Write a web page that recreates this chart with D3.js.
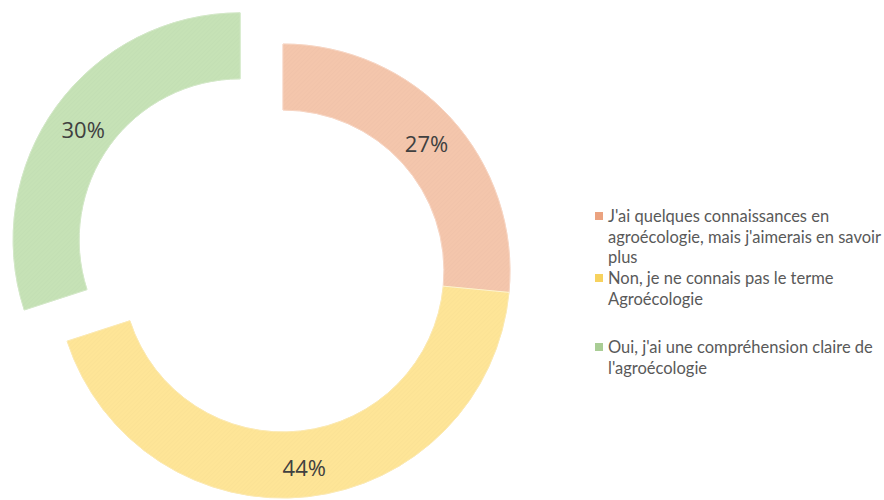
<!DOCTYPE html>
<html>
<head>
<meta charset="utf-8">
<script src="https://cdn.jsdelivr.net/npm/d3@7"></script>
<style>
  html, body { margin: 0; padding: 0; background: #fff; }
  svg { display: block; }
</style>
</head>
<body>
<svg id="chart" width="884" height="500"></svg>
<script>
// ---- data ----
const categories = [
  "J'ai quelques connaissances en agroécologie, mais j'aimerais en savoir plus",
  "Non, je ne connais pas le terme Agroécologie",
  "Oui, j'ai une compréhension claire de l'agroécologie"
];
const values = [26.5, 43.5, 30];
const exploded = [0, 0, 1];

// ---- styles ----
const fillColors = ["#F4C6AC", "#FEE597", "#C6E2B6"];
const edgeColors = ["#F2BA9C", "#FADB7E", "#B6D9A3"];
const legendColors = ["#EBA380", "#F7D25E", "#A9CD95"];

const svg = d3.select("#chart");
const cx = 283, cy = 271, rOuter = 227, rInner = 161, explodeDist = 53;

// hatch patterns
const defs = svg.append("defs");
fillColors.forEach((c, i) => {
  const p = defs.append("pattern")
    .attr("id", "hatch" + i)
    .attr("patternUnits", "userSpaceOnUse")
    .attr("width", 3).attr("height", 3)
    .attr("patternTransform", "rotate(45)");
  p.append("rect").attr("width", 3).attr("height", 3).attr("fill", c);
  p.append("line").attr("x1", 0).attr("y1", 0).attr("x2", 0).attr("y2", 3)
    .attr("stroke", d3.color(c).darker(0.35)).attr("stroke-width", 0.6).attr("stroke-opacity", 0.35);
});

const total = d3.sum(values);
const pie = d3.pie().sort(null).value(d => d).startAngle(0).endAngle(2 * Math.PI);
const arcs = pie(values);
const arc = d3.arc().innerRadius(rInner).outerRadius(rOuter);

const g = svg.append("g").attr("transform", `translate(${cx},${cy})`);

function offset(d, i) {
  if (!exploded[i]) return [0, 0];
  const a = (d.startAngle + d.endAngle) / 2;
  return [Math.sin(a) * explodeDist, -Math.cos(a) * explodeDist];
}

g.selectAll("path.slice").data(arcs).join("path")
  .attr("class", "slice")
  .attr("d", arc)
  .attr("transform", (d, i) => { const o = offset(d, i); return `translate(${o[0]},${o[1]})`; })
  .attr("fill", (d, i) => `url(#hatch${i})`)
  .attr("stroke", (d, i) => edgeColors[i])
  .attr("stroke-width", 1);

g.selectAll("path.sep").data(arcs).join("path")
  .attr("class", "sep")
  .attr("d", arc)
  .attr("transform", (d, i) => { const o = offset(d, i); return `translate(${o[0]},${o[1]})`; })
  .attr("fill", "none")
  .attr("stroke", "#fff")
  .attr("stroke-width", 0.8)
  .attr("stroke-opacity", 0.5);

g.selectAll("text.lbl").data(arcs).join("text")
  .attr("class", "lbl")
  .attr("x", (d, i) => arc.centroid(d)[0] + offset(d, i)[0])
  .attr("y", (d, i) => arc.centroid(d)[1] + offset(d, i)[1] + 3)
  .attr("text-anchor", "middle")
  .attr("dominant-baseline", "central")
  .attr("font-family", "'Open Sans', sans-serif")
  .attr("font-size", 22)
  .attr("fill", "#404040")
  .text(d => Math.round(d.value / total * 100) + "%");

// ---- legend ----
const legendX = 595, legendTextX = 608, legendTop = 216, lineH = 20.5;
const legendEntryY = [0, 62, 131];
const legendMaxW = 280;
const legendFont = 16.5;
const leg = svg.append("g");

function wrapInto(textSel, text, y0) {
  const words = text.split(" ");
  let line = [];
  let lineNo = 0;
  let tspan = textSel.append("tspan").attr("x", legendTextX).attr("y", y0).attr("dominant-baseline", "central");
  words.forEach(w => {
    line.push(w);
    tspan.text(line.join(" "));
    if (tspan.node().getComputedTextLength() > legendMaxW && line.length > 1) {
      line.pop();
      tspan.text(line.join(" "));
      line = [w];
      lineNo++;
      tspan = textSel.append("tspan").attr("x", legendTextX)
        .attr("y", y0 + lineNo * lineH).attr("dominant-baseline", "central").text(w);
    }
  });
}

categories.forEach((c, i) => {
  const y0 = legendTop + legendEntryY[i];
  leg.append("rect")
    .attr("x", legendX).attr("y", y0 - 4)
    .attr("width", 8).attr("height", 8)
    .attr("fill", legendColors[i]);
  const t = leg.append("text")
    .attr("font-family", "Lato, sans-serif")
    .attr("font-size", legendFont)
    .attr("fill", "#595959");
  wrapInto(t, c, y0);
});
</script>
</body>
</html>
